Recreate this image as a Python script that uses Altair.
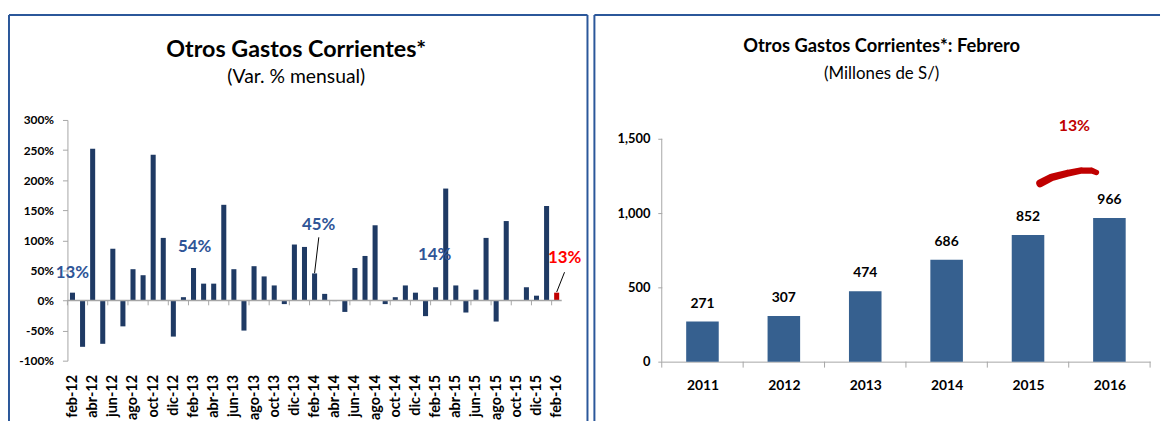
import altair as alt
import pandas as pd

FONT = "Lato"
NAVY = "#1F3A64"
STEEL = "#36608F"
RED_BAR = "#C00000"
RED_TXT = "#FF0000"
BLUE_TXT = "#2F5597"
GRAY = "#A6A6A6"
BORDER = "#2B579A"

# ---------------- data: left panel (Var. % mensual) ----------------
abbr = ["ene", "feb", "mar", "abr", "may", "jun", "jul", "ago", "sep", "oct", "nov", "dic"]
months = [f"{abbr[(1 + i) % 12]}-{12 + (1 + i) // 12}" for i in range(49)]

var_mensual = [13, -77, 252, -72, 86, -43, 52, 42, 242, 104, -60,
               5.5, 54, 28, 28, 159, 52, -50, 57, 40, 25, -6, 93,
               89, 45, 11, -1, -19, 54, 74, 125, -6, 5.5, 25, 13,
               -26, 22, 186, 25, -20, 18, 104, -35, 132, 0.5, 22, 8,
               157, 13]
bar_colors = [NAVY] * 48 + [RED_BAR]

ann_text = ["13%", "54%", "45%", "14%", "13%"]
ann_x = [0.5, 12.6, 24.9, 36.4, 49.3]          # month units
ann_y = [46, 88, 125, 76, 71]                  # % units
ann_color = [BLUE_TXT, BLUE_TXT, BLUE_TXT, BLUE_TXT, RED_TXT]

lead_x = [24.92, 49.28]
lead_y = [105, 47]
lead_x2 = [24.5, 48.5]
lead_y2 = [45.5, 14]

# ---------------- data: right panel (Febrero, millones) ----------------
years = ["2011", "2012", "2013", "2014", "2015", "2016"]
feb_values = [271, 307, 474, 686, 852, 966]
y_ticks2 = [0, 500, 1000, 1500]

arc_x = [4.65, 4.79, 4.98, 5.16, 5.28, 5.34]   # year-band units
arc_y = [1200, 1240, 1267, 1287, 1287, 1273]
arc_w = [8, 7.5, 7, 6.5, 6, 5.5]
arc_label = "13%"
arc_label_x = 5.07
arc_label_y = 1587

W1, H1 = 499, 243
W2, H2 = 493, 244
Y2_TOP = 1500 * H2 / 225.0   # right plot shares the left plot's top edge

one = pd.DataFrame({"k": [0]})


def deco_rule(x, x2, y, y2, color=BORDER, sw=2):
    return alt.Chart(one).mark_rule(color=color, strokeWidth=sw).encode(
        x=alt.value(x), x2=alt.value(x2), y=alt.value(y), y2=alt.value(y2))


def deco_text(txt, x, y, size, weight="normal", color="black"):
    return alt.Chart(pd.DataFrame({"t": [txt]})).mark_text(
        font=FONT, fontSize=size, fontWeight=weight, color=color,
        align="center", baseline="middle").encode(
        x=alt.value(x), y=alt.value(y), text="t:N")


# ---------------- left panel ----------------
n1 = len(months)
xs1 = alt.Scale(domain=[0, n1], nice=False, zero=False)
ys1 = alt.Scale(domain=[-100, 300], nice=False)
label_js = "[" + ",".join(f"'{m}'" for m in months) + "]"
xaxis1 = alt.Axis(values=[i + 0.5 for i in range(0, n1, 2)],
                  labelExpr=f"{label_js}[floor(datum.value)]",
                  title=None, grid=False, labelAngle=270, domain=False, ticks=False,
                  labelPadding=14, labelFont=FONT, labelFontSize=14.5,
                  labelFontWeight="bold", labelColor="black", labelAlign="right",
                  labelBaseline="middle", labelFlush=False, labelOverlap=False)
yaxis1 = alt.Axis(values=list(range(-100, 301, 50)), labelExpr="datum.value + '%'",
                  title=None, grid=False, domainColor=GRAY, tickColor=GRAY,
                  tickSize=5, labelPadding=9, labelFont=FONT, labelFontSize=12,
                  labelFontWeight="bold", labelColor="black")

idx1 = list(range(n1))
left_df = pd.DataFrame({"mes": months, "var": var_mensual, "col": bar_colors,
                        "base": 0,
                        "x0": [i + 0.25 for i in idx1], "x1": [i + 0.75 for i in idx1]})

bars1 = alt.Chart(left_df).mark_bar().encode(
    x=alt.X("x0:Q", scale=xs1, axis=xaxis1, title=None),
    x2="x1:Q",
    y=alt.Y("var:Q", scale=ys1, axis=yaxis1, title=None),
    y2="base:Q",
    color=alt.Color("col:N", scale=None),
    tooltip=["mes:N", "var:Q"],
)

zero1 = alt.Chart(pd.DataFrame({"z": [0]})).mark_rule(color=GRAY, strokeWidth=1.5).encode(
    y=alt.Y("z:Q", scale=ys1, axis=yaxis1, title=None))

tick_df1 = pd.DataFrame({"t": list(range(0, n1, 2)), "z": 0, "z2": -8})
ticks1 = alt.Chart(tick_df1).mark_rule(color=GRAY).encode(
    x=alt.X("t:Q", scale=xs1, axis=xaxis1, title=None),
    y=alt.Y("z:Q", scale=ys1, axis=yaxis1, title=None), y2="z2:Q")

ann1 = alt.Chart(pd.DataFrame({"t": ann_text, "x": ann_x, "y": ann_y, "c": ann_color})).mark_text(
    font=FONT, fontSize=17, fontWeight="bold").encode(
    x=alt.X("x:Q", scale=xs1, axis=xaxis1, title=None),
    y=alt.Y("y:Q", scale=ys1, axis=yaxis1, title=None),
    text="t:N", color=alt.Color("c:N", scale=None))

lead1 = alt.Chart(pd.DataFrame({"x": lead_x, "y": lead_y, "x2": lead_x2, "y2": lead_y2})).mark_rule(
    color="black", strokeWidth=1).encode(
    x=alt.X("x:Q", scale=xs1, axis=xaxis1, title=None), x2="x2:Q",
    y=alt.Y("y:Q", scale=ys1, axis=yaxis1, title=None), y2="y2:Q")

left = alt.layer(
    deco_rule(-59, 525, -106, -106),
    deco_rule(-59, -59, -106, 313),
    deco_rule(525, 525, -106, 313),
    deco_text("Otros Gastos Corrientes*", 231, -71, 23.5, "bold"),
    deco_text("(Var. % mensual)", 231, -43, 19.5),
    bars1, zero1, ticks1, ann1, lead1,
).properties(width=W1, height=H1)

# ---------------- right panel ----------------
n2 = len(years)
xs2 = alt.Scale(domain=[0, n2], nice=False, zero=False)
ys2 = alt.Scale(domain=[0, Y2_TOP], nice=False)
year_js = "[" + ",".join(f"'{y}'" for y in years) + "]"
xaxis2 = alt.Axis(values=[i + 0.5 for i in range(n2)],
                  labelExpr=f"{year_js}[floor(datum.value)]",
                  title=None, grid=False, ticks=False, domainColor=GRAY, labelAngle=0,
                  labelPadding=17, labelFont=FONT, labelFontSize=14,
                  labelFontWeight="bold", labelColor="black", labelFlush=False)
yaxis2 = alt.Axis(values=y_ticks2, labelExpr="format(datum.value, ',')", title=None,
                  grid=False, domain=False, tickColor=GRAY, tickSize=4, labelPadding=8,
                  labelFont=FONT, labelFontSize=13, labelFontWeight="bold",
                  labelColor="black")

idx2 = list(range(n2))
right_df = pd.DataFrame({"year": years, "v": feb_values, "base": 0,
                         "x0": [i + 0.3 for i in idx2], "x1": [i + 0.7 for i in idx2],
                         "xc": [i + 0.5 for i in idx2]})

bars2 = alt.Chart(right_df).mark_bar(color=STEEL).encode(
    x=alt.X("x0:Q", scale=xs2, axis=xaxis2, title=None), x2="x1:Q",
    y=alt.Y("v:Q", scale=ys2, axis=yaxis2, title=None), y2="base:Q",
    tooltip=["year:N", "v:Q"],
)

labels2 = alt.Chart(right_df).mark_text(
    dy=-18, font=FONT, fontSize=14, fontWeight="bold", color="black").encode(
    x=alt.X("xc:Q", scale=xs2, axis=xaxis2, title=None),
    y=alt.Y("v:Q", scale=ys2, axis=yaxis2, title=None),
    text=alt.Text("v:Q", format=","))

tick_df2 = pd.DataFrame({"t": list(range(n2 + 1)), "z": 0, "z2": -40})
ticks2 = alt.Chart(tick_df2).mark_rule(color=GRAY).encode(
    x=alt.X("t:Q", scale=xs2, axis=xaxis2, title=None),
    y=alt.Y("z:Q", scale=ys2, axis=yaxis2, title=None), y2="z2:Q")

yline2 = alt.Chart(pd.DataFrame({"x": [0], "lo": [y_ticks2[0]], "hi": [y_ticks2[-1]]})).mark_rule(
    color=GRAY).encode(
    x=alt.X("x:Q", scale=xs2, axis=xaxis2, title=None),
    y=alt.Y("lo:Q", scale=ys2, axis=yaxis2, title=None), y2="hi:Q")

arc2 = alt.Chart(pd.DataFrame({"x": arc_x, "y": arc_y, "w": arc_w})).mark_trail(
    color=RED_BAR).encode(
    x=alt.X("x:Q", scale=xs2, axis=xaxis2, title=None),
    y=alt.Y("y:Q", scale=ys2, axis=yaxis2, title=None),
    size=alt.Size("w:Q", scale=None, legend=None))

arc_txt = alt.Chart(pd.DataFrame({"t": [arc_label], "x": [arc_label_x], "y": [arc_label_y]})).mark_text(
    font=FONT, fontSize=16, fontWeight="bold", color=RED_BAR).encode(
    x=alt.X("x:Q", scale=xs2, axis=xaxis2, title=None),
    y=alt.Y("y:Q", scale=ys2, axis=yaxis2, title=None),
    text="t:N")

right = alt.layer(
    deco_rule(-68, 503, -106, -106),
    deco_rule(-68, -68, -106, 313),
    deco_text("Otros Gastos Corrientes*: Febrero", 222, -75, 18.5, "bold"),
    deco_text("(Millones de S/)", 222, -46, 17),
    bars2, labels2, ticks2, yline2, arc2, arc_txt,
).properties(width=W2, height=H2)

chart = alt.hconcat(left, right, spacing=5).properties(
    padding={"left": 0, "top": 4, "right": 0, "bottom": 0}
).configure_view(stroke=None)

chart.save("out.html", embed_options={"renderer": "svg", "actions": False})
